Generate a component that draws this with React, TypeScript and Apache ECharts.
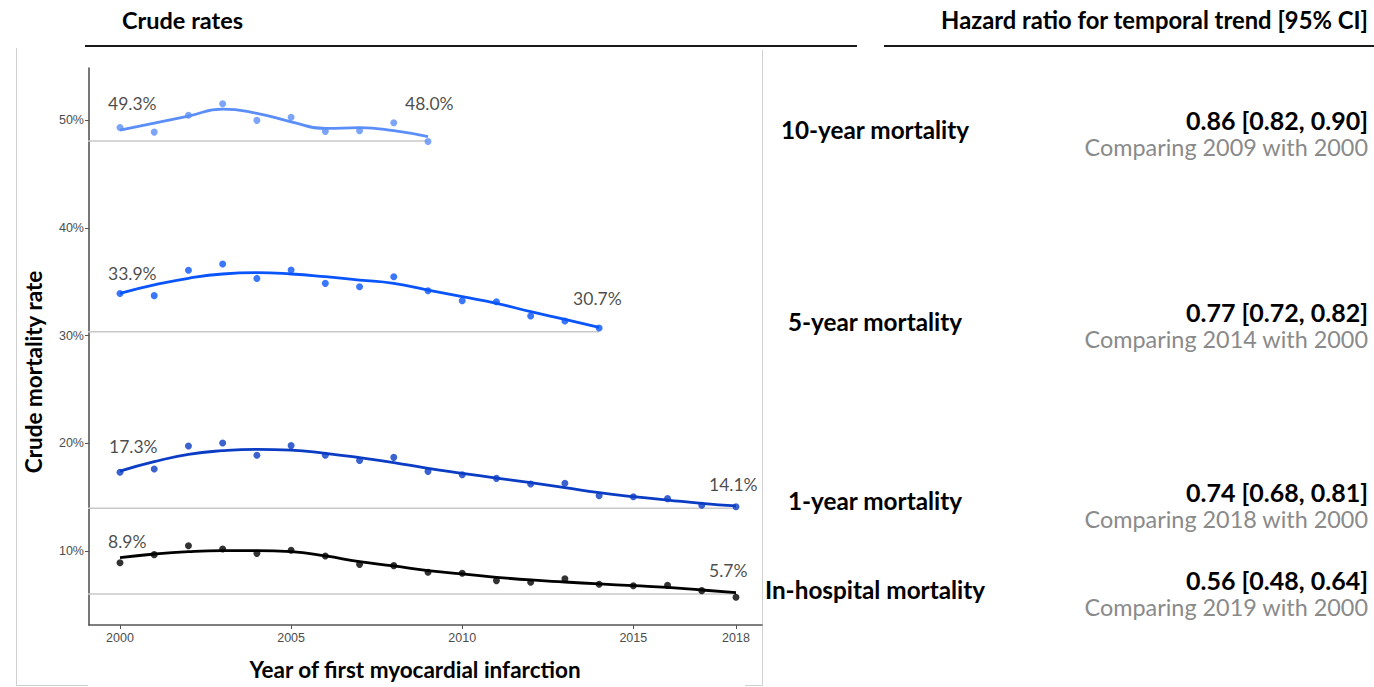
import React, { useEffect, useRef } from 'react';
import * as echarts from 'echarts';

// ---------- data ----------
const years10 = [2000, 2001, 2002, 2003, 2004, 2005, 2006, 2007, 2008, 2009];
const years5 = [2000, 2001, 2002, 2003, 2004, 2005, 2006, 2007, 2008, 2009, 2010, 2011, 2012, 2013, 2014];
const years1 = [2000, 2001, 2002, 2003, 2004, 2005, 2006, 2007, 2008, 2009, 2010, 2011, 2012, 2013, 2014, 2015, 2016, 2017, 2018];
const yearsHosp = years1;

const tenYearRate = [49.3, 48.88, 50.44, 51.51, 49.97, 50.25, 48.95, 49.01, 49.75, 48.0];
const tenYearFit = [49.07, 49.72, 50.37, 51.02, 50.62, 49.84, 49.22, 49.29, 49.01, 48.45];

const fiveYearRate = [33.9, 33.7, 36.05, 36.63, 35.3, 36.08, 34.84, 34.53, 35.46, 34.16, 33.23, 33.14, 31.81, 31.35, 30.7];
const fiveYearFit = [33.92, 34.69, 35.31, 35.71, 35.83, 35.71, 35.46, 35.15, 34.84, 34.22, 33.6, 32.99, 32.21, 31.5, 30.76];

const oneYearRate = [17.3, 17.61, 19.74, 20.02, 18.88, 19.78, 18.88, 18.41, 18.69, 17.39, 17.08, 16.74, 16.22, 16.28, 15.13, 15.04, 14.86, 14.24, 14.1];
const oneYearFit = [17.42, 18.29, 18.97, 19.31, 19.44, 19.37, 19.06, 18.66, 18.2, 17.67, 17.21, 16.77, 16.34, 15.88, 15.41, 15.04, 14.73, 14.42, 14.18];

const hospRate = [8.9, 9.66, 10.49, 10.19, 9.78, 10.06, 9.54, 8.76, 8.64, 8.02, 7.93, 7.25, 7.09, 7.43, 6.91, 6.78, 6.81, 6.32, 5.7];
const hospFit = [9.38, 9.72, 9.94, 10.03, 10.03, 9.94, 9.54, 9.01, 8.61, 8.17, 7.87, 7.56, 7.31, 7.12, 6.94, 6.78, 6.63, 6.38, 6.13];

// horizontal reference levels (start at 1999, end at last year)
const refStartYear = 1999;
const refLevels = [48.05, 30.35, 13.96, 6.01];

const outcomeNames = ['10-year mortality', '5-year mortality', '1-year mortality', 'In-hospital mortality'];
const hrTexts = ['0.86 [0.82, 0.90]', '0.77 [0.72, 0.82]', '0.74 [0.68, 0.81]', '0.56 [0.48, 0.64]'];
const compareTexts = ['Comparing 2009 with 2000', 'Comparing 2014 with 2000', 'Comparing 2018 with 2000', 'Comparing 2019 with 2000'];

const xTicks = [2000, 2005, 2010, 2015, 2018];
const yTicks = [10, 20, 30, 40, 50];

// ---------- styling ----------
const colors = ['#5b8ef8', '#0a55fb', '#0a3cc4', '#000000'];
const FONT = 'Lato, "Open Sans", sans-serif';
const AXFONT = '"Liberation Sans", Arial, sans-serif';
// label offsets (px) for first and last values: [dx, dy]
const startOffsets = [[-12, -24], [-12, -20], [-11, -26], [-12, -21]];
const endOffsets = [[-23, -38], [-26, -29], [-27, -22], [-27, -27]];
// y of outcome name rows / hr rows
const rowNameY = [129, 321, 500, 589];
const rowHrY = [120, 312, 492, 580];

export default function App() {
  const ref = useRef<HTMLDivElement>(null);

  useEffect(() => {
    if (!ref.current) return;
    const chart = echarts.init(ref.current, undefined, { renderer: 'svg' });

    const groups = [
      { years: years10, rate: tenYearRate, fit: tenYearFit },
      { years: years5, rate: fiveYearRate, fit: fiveYearFit },
      { years: years1, rate: oneYearRate, fit: oneYearFit },
      { years: yearsHosp, rate: hospRate, fit: hospFit },
    ];

    const series: any[] = [];
    groups.forEach((g, i) => {
      const last = g.years.length - 1;
      series.push({
        type: 'line',
        name: outcomeNames[i] + ' reference',
        data: [[refStartYear, refLevels[i]], [g.years[last], refLevels[i]]],
        showSymbol: false,
        clip: false,
        lineStyle: { color: '#c8c8c8', width: 1.6 },
        z: 1,
      });
      series.push({
        type: 'line',
        name: outcomeNames[i] + ' trend',
        data: g.years.map((y, k) => [y, g.fit[k]]),
        smooth: 0.5,
        showSymbol: false,
        lineStyle: { color: colors[i], width: 2.8 },
        z: 3,
      });
      series.push({
        type: 'scatter',
        name: outcomeNames[i],
        data: g.years.map((y, k) => [y, g.rate[k]]),
        symbolSize: 7,
        itemStyle: { color: colors[i] },
        z: 4,
      });
      const mk = (k: number, off: number[]) => ({
        value: [g.years[k], g.rate[k]],
        label: {
          show: true,
          position: 'inside',
          offset: off,
          align: 'left',
          verticalAlign: 'middle',
          formatter: g.rate[k].toFixed(1) + '%',
          color: '#1a1a1a',
          fontSize: 17.5,
          fontFamily: FONT,
        },
      });
      series.push({
        type: 'scatter',
        name: outcomeNames[i] + ' labels',
        data: [mk(0, startOffsets[i]), mk(last, endOffsets[i])],
        symbolSize: 0,
        itemStyle: { color: 'transparent' },
        z: 5,
        silent: true,
      });
    });

    const graphic: any[] = [
      // outer light box
      { type: 'line', shape: { x1: 16.5, y1: 48, x2: 16.5, y2: 686 }, style: { stroke: '#d0d0d0', lineWidth: 1 } },
      { type: 'line', shape: { x1: 762.5, y1: 50, x2: 762.5, y2: 686 }, style: { stroke: '#d0d0d0', lineWidth: 1 } },
      { type: 'line', shape: { x1: 16, y1: 685.5, x2: 88, y2: 685.5 }, style: { stroke: '#d0d0d0', lineWidth: 1 } },
      { type: 'line', shape: { x1: 745, y1: 685.5, x2: 762, y2: 685.5 }, style: { stroke: '#d0d0d0', lineWidth: 1 } },
      // header rules
      { type: 'line', shape: { x1: 85, y1: 46, x2: 857, y2: 46 }, style: { stroke: '#1a1a1a', lineWidth: 2 } },
      { type: 'line', shape: { x1: 884, y1: 46, x2: 1374, y2: 46 }, style: { stroke: '#1a1a1a', lineWidth: 2 } },
      // headers
      { type: 'text', x: 122, y: 20, style: { text: 'Crude rates', font: `bold 23.5px ${FONT}`, fill: '#000', align: 'left', verticalAlign: 'middle' } },
      { type: 'text', x: 1368, y: 20, style: { text: 'Hazard ratio for temporal trend [95% CI]', font: `bold 23.8px ${FONT}`, fill: '#000', align: 'right', verticalAlign: 'middle' } },
      // axis titles
      { type: 'text', x: 415, y: 669, style: { text: 'Year of first myocardial infarction', font: `bold 22.5px ${FONT}`, fill: '#000', align: 'center', verticalAlign: 'middle' } },
      { type: 'text', x: 33, y: 372, rotation: Math.PI / 2, style: { text: 'Crude mortality rate', font: `bold 22.5px ${FONT}`, fill: '#000', align: 'center', verticalAlign: 'middle' } },
    ];
    outcomeNames.forEach((n, i) => {
      graphic.push({ type: 'text', x: 875, y: rowNameY[i], style: { text: n, font: `bold 24.3px ${FONT}`, fill: '#000', align: 'center', verticalAlign: 'middle' } });
      graphic.push({ type: 'text', x: 1368, y: rowHrY[i], style: { text: hrTexts[i], font: `bold 25px ${FONT}`, fill: '#000', align: 'right', verticalAlign: 'middle' } });
      graphic.push({ type: 'text', x: 1368, y: rowHrY[i] + 27, style: { text: compareTexts[i], font: `23.4px ${FONT}`, fill: '#8a8a8a', align: 'right', verticalAlign: 'middle' } });
    });

    chart.setOption({
      animation: false,
      backgroundColor: '#ffffff',
      grid: { left: 89, top: 68, width: 673, height: 557, containLabel: false },
      xAxis: {
        type: 'value',
        min: 1999.094,
        max: 2018.76,
        axisLine: { show: true, onZero: false, lineStyle: { color: '#555555', width: 1.6 } },
        axisTick: { show: true, customValues: xTicks, length: 4, lineStyle: { color: '#555555' } },
        axisLabel: { customValues: xTicks, color: '#4d4d4d', fontSize: 12.5, fontFamily: AXFONT, margin: 6, formatter: (v: number) => String(v) },
        splitLine: { show: false },
      },
      yAxis: {
        type: 'value',
        min: 3.13,
        max: 54.83,
        axisLine: { show: true, onZero: false, lineStyle: { color: '#555555', width: 1.6 } },
        axisTick: { show: true, customValues: yTicks, length: 4, lineStyle: { color: '#555555' } },
        axisLabel: { customValues: yTicks, color: '#4d4d4d', fontSize: 12.5, fontFamily: AXFONT, margin: 5, formatter: (v: number) => v + '%' },
        splitLine: { show: false },
      },
      series,
      graphic,
    });

    return () => chart.dispose();
  }, []);

  return (
    <div
      ref={ref}
      style={{ position: 'fixed', left: 0, top: 0, width: 1374, height: 687 }}
    />
  );
}
